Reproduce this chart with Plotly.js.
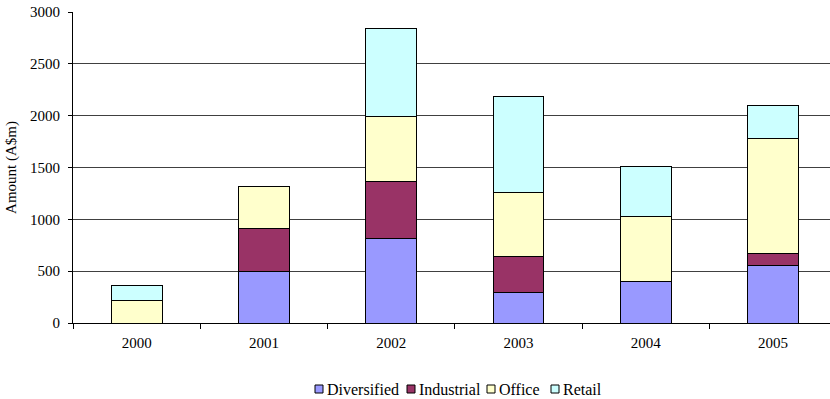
<!DOCTYPE html>
<html><head><meta charset="utf-8">
<script src="https://cdn.plot.ly/plotly-3.0.1.min.js"></script>
<style>html,body{margin:0;padding:0;background:#fff}#c{width:830px;height:399px}</style>
</head><body><div id="c"></div>
<script>
const years = ['2000','2001','2002','2003','2004','2005'];
const diversified = [0, 495, 813, 290, 405, 556];
const industrial = [0, 418, 554, 353, 0, 119];
const office = [220, 405, 621, 617, 618, 1101];
const retail = [137, 0, 855, 927, 488, 321];
const seriesNames = ['Diversified','Industrial','Office','Retail'];
const seriesColors = ['#9999FF','#993366','#FFFFCC','#CCFFFF'];
const seriesData = [diversified, industrial, office, retail];

const traces = seriesData.map((d,i)=>({
  type:'bar', x: years, y: d, name: seriesNames[i],
  marker:{color: seriesColors[i], line:{color:'#000', width:1}},
  hoverinfo:'skip', showlegend:false
}));

const FAM = 'Liberation Serif, Times New Roman, serif';
const font = {family:FAM, size:15, color:'#000'};

// custom legend (pixel layout -> paper coords)
const M = {l:73, r:0, t:12, b:76};
const W = 830, H = 399;
const pw = W - M.l - M.r, ph = H - M.t - M.b;
const px2x = p => (p - M.l)/pw;
const py2y = p => (H - M.b - p)/ph;
const legMarkX = [315, 407, 487, 551];
const shapes = [], annotations = [];
seriesNames.forEach((n,i)=>{
  shapes.push({type:'rect', xref:'paper', yref:'paper',
    x0:px2x(legMarkX[i]), x1:px2x(legMarkX[i]+8), y0:py2y(393), y1:py2y(385),
    fillcolor:seriesColors[i], line:{color:'#000', width:1}});
  annotations.push({xref:'paper', yref:'paper', x:px2x(legMarkX[i]+10), y:py2y(389.5),
    xanchor:'left', yanchor:'middle', text:n, showarrow:false,
    font:{family:FAM, size:16, color:'#000'}});
});

const layout = {
  width:W, height:H,
  margin:M,
  barmode:'stack', bargap:0.6,
  paper_bgcolor:'#fff', plot_bgcolor:'#fff',
  font: font,
  showlegend:false,
  shapes: shapes, annotations: annotations,
  xaxis:{type:'category', range:[-0.5, 5.447], showline:true, linecolor:'#000', linewidth:1,
    ticks:'outside', tickson:'boundaries', ticklen:5, tickcolor:'#000',
    showgrid:false, tickfont:font, ticklabelstandoff:6, fixedrange:true},
  yaxis:{range:[0,3000], dtick:500, showline:true, linecolor:'#000', linewidth:1,
    ticks:'outside', ticklen:4, tickcolor:'#000', showgrid:true, gridcolor:'#404040', gridwidth:1,
    zeroline:false, tickfont:font, ticklabelstandoff:5,
    title:{text:'Amount (A$m)', font:font, standoff:9}}
};
Plotly.newPlot('c', traces, layout, {displayModeBar:false, staticPlot:true});
</script></body></html>
